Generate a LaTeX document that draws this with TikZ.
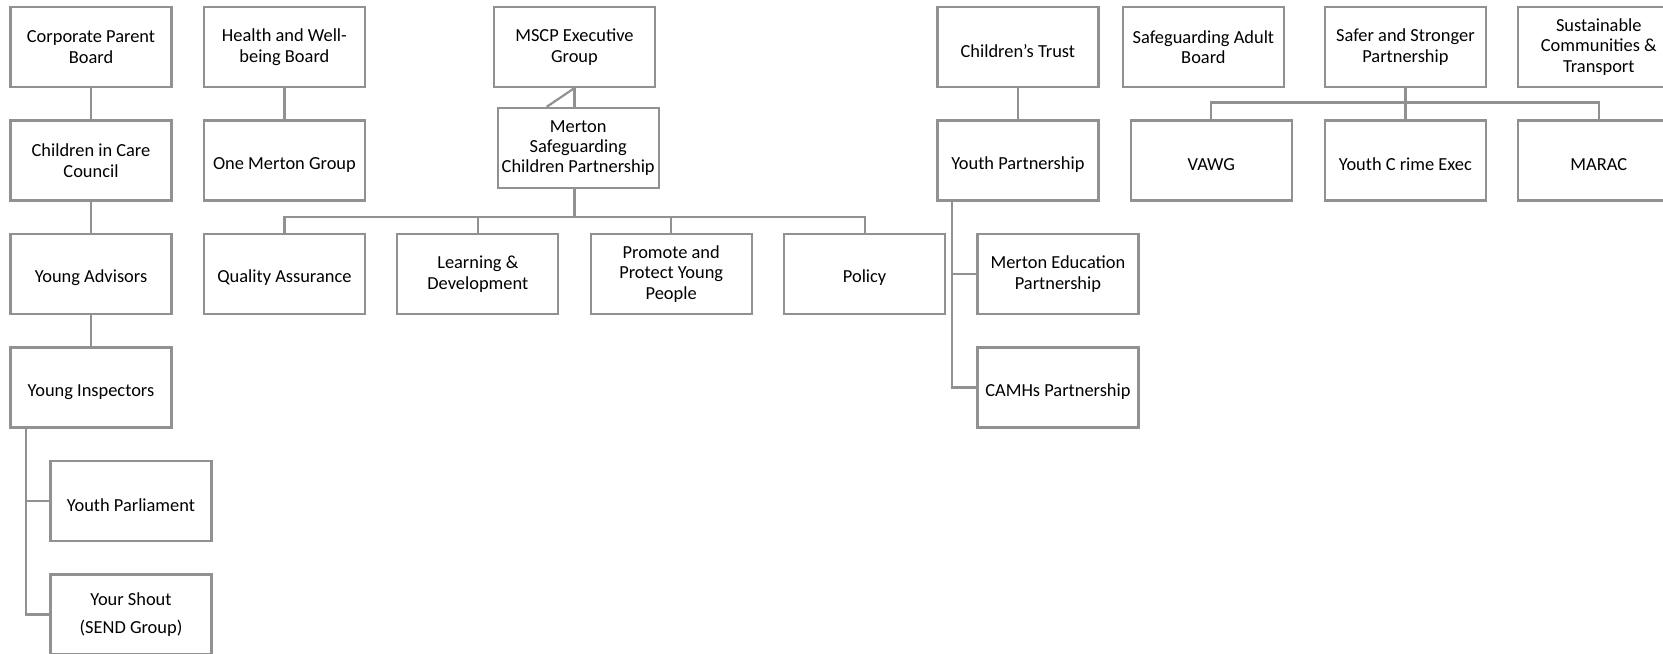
\documentclass[tikz,border=0pt]{standalone}
\usepackage{fontspec}
\setmainfont{Carlito}
\usetikzlibrary{positioning,calc}
\definecolor{boxgray}{RGB}{145,145,145}

\begin{document}
\begin{tikzpicture}[node distance=56.75pt and 96.7pt,on grid,
  box/.style={draw=boxgray,line width=1.1pt,minimum width=80.5pt,minimum height=40pt,
    align=center,inner sep=1pt,font=\fontsize{9.2}{10.2}\selectfont,
    execute at begin node={\rule{0pt}{10.4pt}}},
  link/.style={draw=boxgray,line width=1.1pt}]
\useasboundingbox (0,0) rectangle (831.5pt,-326.5pt);
% first column
\node[box] (cpb) at (45.5pt,-23.5pt) {Corporate Parent\\Board};
\node[box] (cicc) [below=of cpb] {Children in Care\\Council};
\node[box] (ya) [below=of cicc] {Young Advisors};
\node[box] (yi) [below=of ya] {Young Inspectors};
\node[box] (ypar) [below right=56.75pt and 20pt of yi] {Youth Parliament};
\node[box] (ysh) [below=of ypar] {Your Shout\\[3.5pt](SEND Group)};
% health and safeguarding children
\node[box] (hwb) [right=of cpb] {Health and Well-\\being Board};
\node[box] (omg) [below=of hwb] {One Merton Group};
\node[box] (mscp) [right=145pt of hwb] {MSCP Executive\\Group};
\node[box] (mscb) [below right=50.5pt and 1.9pt of mscp] {Merton\\Safeguarding\\Children Partnership};
\node[box] (qa) [below=of omg] {Quality Assurance};
\node[box] (ld) [right=of qa] {Learning \&\\Development};
\node[box] (ppy) [right=of ld] {Promote and\\Protect Young\\People};
\node[box] (pol) [right=of ppy] {Policy};
% trust and partnerships
\node[box] (ct) [right=221.75pt of mscp] {Children’s Trust};
\node[box] (yp) [below=of ct] {Youth Partnership};
\node[box] (mep) [below right=56.75pt and 20pt of yp] {Merton Education\\Partnership};
\node[box] (camhs) [below=of mep] {CAMHs Partnership};
\node[box] (sab) [right=92.75pt of ct] {Safeguarding Adult\\Board};
\node[box] (ssp) [right=101pt of sab] {Safer and Stronger\\Partnership};
\node[box] (sct) [right=of ssp] {Sustainable\\Communities \&\\Transport};
\node[box] (vawg) [right=of yp] {VAWG};
\node[box] (yce) [below=of ssp] {Youth C rime Exec};
\node[box] (marac) [below=of sct] {MARAC};

\coordinate (yitrunk) at ($(yi.south west)+(8.35pt,0)$);
\coordinate (yptrunk) at ($(yp.south west)+(8pt,0)$);
\coordinate (msbar) at ($(mscp.south |- qa.north)+(0,8pt)$);
\coordinate (ssbar) at ($(ssp.south |- yce.north)+(0,8.5pt)$);

\draw[link] (cpb) -- (cicc) -- (ya) -- (yi);
\draw[link] (yitrunk) |- (ypar.west);
\draw[link] (yitrunk) |- (ysh.west);
\draw[link] (hwb) -- (omg);
\draw[link] (mscp.south) -- (mscp.south |- mscb.north);
\draw[link] (mscp.south) -- ($(mscb.north west)+(25pt,0)$);
\draw[link] (mscp.south |- mscb.south) -- (msbar);
\draw[link] (qa.north) |- (msbar) -| (pol.north);
\draw[link] (ld.north) -- (ld.north |- msbar);
\draw[link] (ppy.north) -- (ppy.north |- msbar);
\draw[link] (ct) -- (yp);
\draw[link] (yptrunk) |- (mep.west);
\draw[link] (yptrunk) |- (camhs.west);
\draw[link] (ssp) -- (yce);
\draw[link] (vawg.north) |- (ssbar) -| (marac.north);
\end{tikzpicture}
\end{document}
